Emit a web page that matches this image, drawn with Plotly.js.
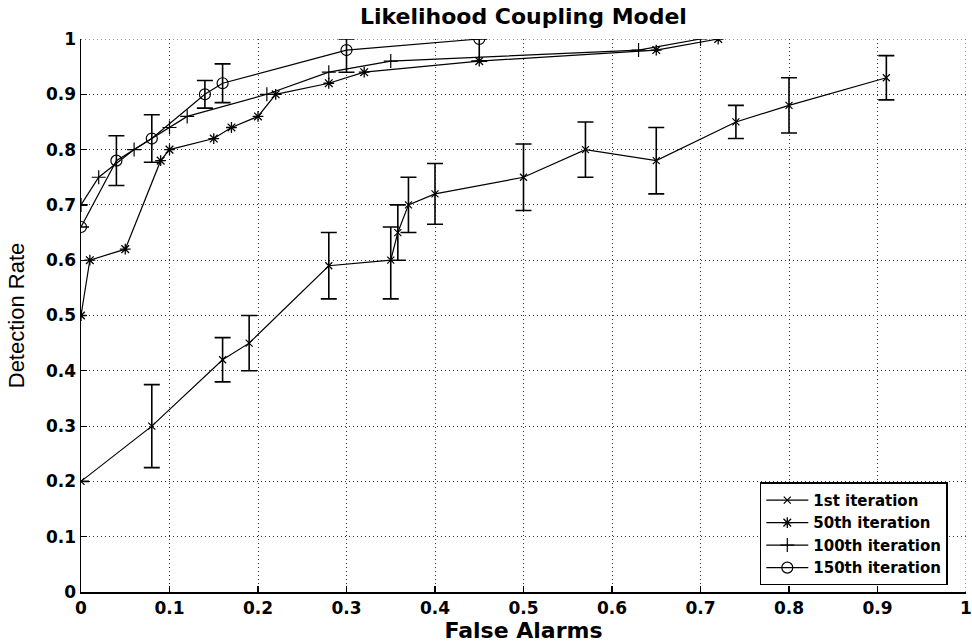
<!DOCTYPE html>
<html>
<head>
<meta charset="utf-8">
<script src="https://cdn.plot.ly/plotly-3.0.1.min.js"></script>
<style>html,body{margin:0;padding:0;background:#fff;}#chart{width:972px;height:643px;}</style>
</head>
<body>
<div id="chart"></div>
<script>
// 1st iteration
const it1X = [0, 0.08, 0.16, 0.19, 0.28, 0.35, 0.358, 0.37, 0.40, 0.50, 0.57, 0.65, 0.74, 0.80, 0.91];
const it1Y = [0.20, 0.30, 0.42, 0.45, 0.59, 0.60, 0.65, 0.70, 0.72, 0.75, 0.80, 0.78, 0.85, 0.88, 0.93];
const it1ErrPlus = [0, 0.075, 0.04, 0.05, 0.06, 0.06, 0.05, 0.05, 0.055, 0.06, 0.05, 0.06, 0.03, 0.05, 0.04];
const it1ErrMinus = [0, 0.075, 0.04, 0.05, 0.06, 0.07, 0.05, 0.05, 0.055, 0.06, 0.05, 0.06, 0.03, 0.05, 0.04];
// 50th iteration
const it50X = [0, 0.01, 0.05, 0.09, 0.10, 0.15, 0.17, 0.20, 0.22, 0.28, 0.32, 0.45, 0.65, 0.72];
const it50Y = [0.50, 0.60, 0.62, 0.78, 0.80, 0.82, 0.84, 0.86, 0.90, 0.92, 0.94, 0.96, 0.98, 1.00];
// 100th iteration
const it100X = [0, 0.02, 0.06, 0.10, 0.12, 0.21, 0.28, 0.35, 0.63, 0.70];
const it100Y = [0.70, 0.75, 0.80, 0.84, 0.86, 0.90, 0.94, 0.96, 0.98, 1.00];
// 150th iteration
const it150X = [0, 0.04, 0.08, 0.14, 0.16, 0.30, 0.45];
const it150Y = [0.66, 0.78, 0.82, 0.90, 0.92, 0.98, 1.00];
const it150ErrPlus = [0, 0.045, 0.043, 0.025, 0.035, 0.02, 0];
const it150ErrMinus = [0, 0.045, 0.043, 0.025, 0.035, 0.04, 0.04];

const seriesNames = ['1st iteration', '50th iteration', '100th iteration', '150th iteration'];
const tickVals = [0, 0.1, 0.2, 0.3, 0.4, 0.5, 0.6, 0.7, 0.8, 0.9, 1];
const tickText = ['0', '0.1', '0.2', '0.3', '0.4', '0.5', '0.6', '0.7', '0.8', '0.9', '1'];

const FONT = 'DejaVu Sans, Verdana, sans-serif';
const FONT_NARROW = 'Liberation Sans, Arial, sans-serif';
const errStyle = {color: '#000', thickness: 1.6, width: 8};
const lineStyle = {color: '#000', width: 1.2};
const GRID = '#333';
const GRIDDASH = '1px,3px';

const traces = [
  {x: it1X, y: it1Y, name: seriesNames[0], mode: 'lines+markers', line: lineStyle,
   marker: {symbol: 'x-thin-open', size: 7, color: '#000', line: {color: '#000', width: 1.2}},
   error_y: Object.assign({type: 'data', symmetric: false, array: it1ErrPlus, arrayminus: it1ErrMinus}, errStyle)},
  {x: it50X, y: it50Y, name: seriesNames[1], mode: 'lines+markers', line: lineStyle,
   marker: {symbol: 'asterisk-open', size: 9, color: '#000', line: {color: '#000', width: 1.3}}},
  {x: it100X, y: it100Y, name: seriesNames[2], mode: 'lines+markers', line: lineStyle,
   marker: {symbol: 'cross-thin-open', size: 10, color: '#000', line: {color: '#000', width: 1.2}}},
  {x: it150X, y: it150Y, name: seriesNames[3], mode: 'lines+markers', line: lineStyle,
   marker: {symbol: 'circle-open', size: 11, color: '#000', line: {color: '#000', width: 1.2}},
   error_y: Object.assign({type: 'data', symmetric: false, array: it150ErrPlus, arrayminus: it150ErrMinus}, errStyle)}
];

const axisCommon = {
  range: [0, 1], tickvals: tickVals, ticktext: tickText,
  showgrid: true, gridcolor: GRID, griddash: GRIDDASH, gridwidth: 1,
  showline: true, linecolor: '#000', linewidth: 1.5,
  ticks: 'inside', ticklen: 6, tickcolor: '#000', tickwidth: 1.2,
  zeroline: false, mirror: false,
  tickfont: {family: FONT, size: 17, color: '#000', weight: 'bold'}
};

const layout = {
  width: 972, height: 643,
  margin: {l: 81, r: 6, t: 39, b: 51},
  paper_bgcolor: '#fff', plot_bgcolor: '#fff',
  showlegend: true,
  title: {text: 'Likelihood Coupling Model', x: 0.5385, xanchor: 'center', y: 0.986, yanchor: 'top',
          font: {family: FONT, size: 22, color: '#000', weight: 'bold'}},
  xaxis: Object.assign({}, axisCommon, {
    title: {text: 'False Alarms', standoff: 0, font: {family: FONT, size: 22, color: '#000', weight: 'bold'}}
  }),
  yaxis: Object.assign({}, axisCommon, {
    title: {text: 'Detection Rate', standoff: 15, font: {family: FONT_NARROW, size: 22, color: '#000'}}
  }),
  legend: {x: 0.767, y: 0.012, xanchor: 'left', yanchor: 'bottom',
           bgcolor: '#fff', bordercolor: '#000', borderwidth: 1.5,
           font: {family: FONT, size: 15, color: '#000', weight: 'bold'},
           tracegroupgap: 0, itemwidth: 42},
  shapes: [
    {type: 'line', xref: 'x', yref: 'y', x0: 0, x1: 1, y0: 1, y1: 1, layer: 'below',
     line: {color: GRID, width: 1, dash: GRIDDASH}},
    {type: 'line', xref: 'x', yref: 'y', x0: 1, x1: 1, y0: 0, y1: 1, layer: 'below',
     line: {color: GRID, width: 1, dash: GRIDDASH}}
  ]
};

Plotly.newPlot('chart', traces, layout, {displayModeBar: false, staticPlot: true});
</script>
</body>
</html>
